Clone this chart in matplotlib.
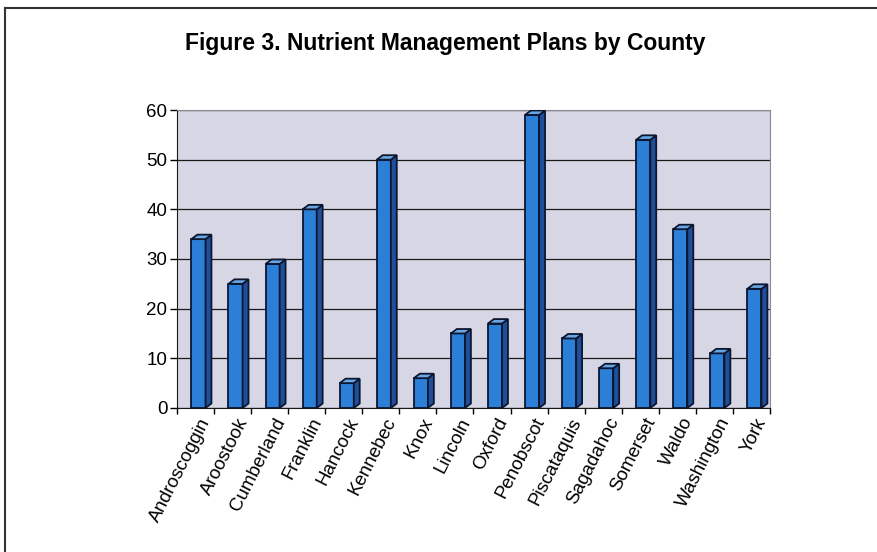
import matplotlib
matplotlib.use("Agg")
from matplotlib import pyplot as plt
from matplotlib.patches import Polygon
from matplotlib.lines import Line2D
import numpy as np

plt.rcParams['font.family'] = ['Liberation Sans', 'DejaVu Sans']

counties = ["Androscoggin", "Aroostook", "Cumberland", "Franklin", "Hancock",
            "Kennebec", "Knox", "Lincoln", "Oxford", "Penobscot", "Piscataquis",
            "Sagadahoc", "Somerset", "Waldo", "Washington", "York"]
plans = [34, 25, 29, 40, 5, 50, 6, 15, 17, 59, 14, 8, 54, 36, 11, 24]
yticks = [0, 10, 20, 30, 40, 50, 60]

front_col = "#2c7fd6"
side_col = "#1f4f98"
top_col = "#6aa6e2"
edge_col = "#0b1630"

fig = plt.figure(figsize=(8.77, 5.52), dpi=100)
ax = fig.add_axes([0.2018, 0.2609, 0.6762, 0.5398])
ax.set_facecolor("#d6d6e5")

x = np.arange(len(counties)) + 0.5
w = 0.38      # front face width
dx = 0.16     # depth, in category units
dy = 0.9      # depth, in data units
shift = 0.08

ax.bar(x + shift, plans, width=w, color=front_col, edgecolor=edge_col,
       linewidth=1.3, zorder=3)
for xi, v in zip(x, plans):
    x0 = xi + shift - w / 2
    x1 = xi + shift + w / 2
    side = Polygon([(x1, 0), (x1 + dx, dy), (x1 + dx, v + dy), (x1, v)],
                   closed=True, facecolor=side_col, edgecolor=edge_col,
                   linewidth=1.3, zorder=3)
    top = Polygon([(x0, v), (x1, v), (x1 + dx, v + dy), (x0 + dx, v + dy)],
                  closed=True, facecolor=top_col, edgecolor=edge_col,
                  linewidth=1.3, zorder=3)
    ax.add_patch(side)
    ax.add_patch(top)

ax.set_xlim(0, len(counties))
ax.set_ylim(0, 60)
ax.set_yticks(yticks)
ax.set_yticklabels([str(t) for t in yticks], fontsize=13.5)
ax.yaxis.grid(True, color="#1a1a1a", linewidth=0.9)
ax.set_axisbelow(True)

# category ticks on the boundaries, labels in the middle
ax.set_xticks(np.arange(len(counties) + 1))
ax.set_xticklabels([])
ax.set_xticks(x + 0.1, minor=True)
ax.set_xticklabels(counties, minor=True, rotation=63, ha="right",
                   rotation_mode="anchor", fontsize=13.5)
ax.tick_params(axis="x", which="minor", length=0, pad=5)
ax.tick_params(axis="x", which="major", length=4, width=1, direction="out")
ax.tick_params(axis="y", length=5, width=1, direction="out", pad=2)

for s in ["top", "right"]:
    ax.spines[s].set_color("#8a8a8a")
    ax.spines[s].set_linewidth(0.8)
ax.spines["left"].set_color("#1a1a1a")
ax.spines["bottom"].set_color("#1a1a1a")

fig.text(0.508, 0.922, "Figure 3. Nutrient Management Plans by County",
         ha="center", va="center", fontsize=16.5, fontweight="bold")

# outer frame
fig.add_artist(Line2D([5 / 877, 5 / 877], [0, 1 - 8 / 552], color="#333333",
                      linewidth=1.5, transform=fig.transFigure))
fig.add_artist(Line2D([5 / 877, 1], [1 - 8 / 552, 1 - 8 / 552], color="#333333",
                      linewidth=1.5, transform=fig.transFigure))

fig.savefig("out.png", dpi=100)
